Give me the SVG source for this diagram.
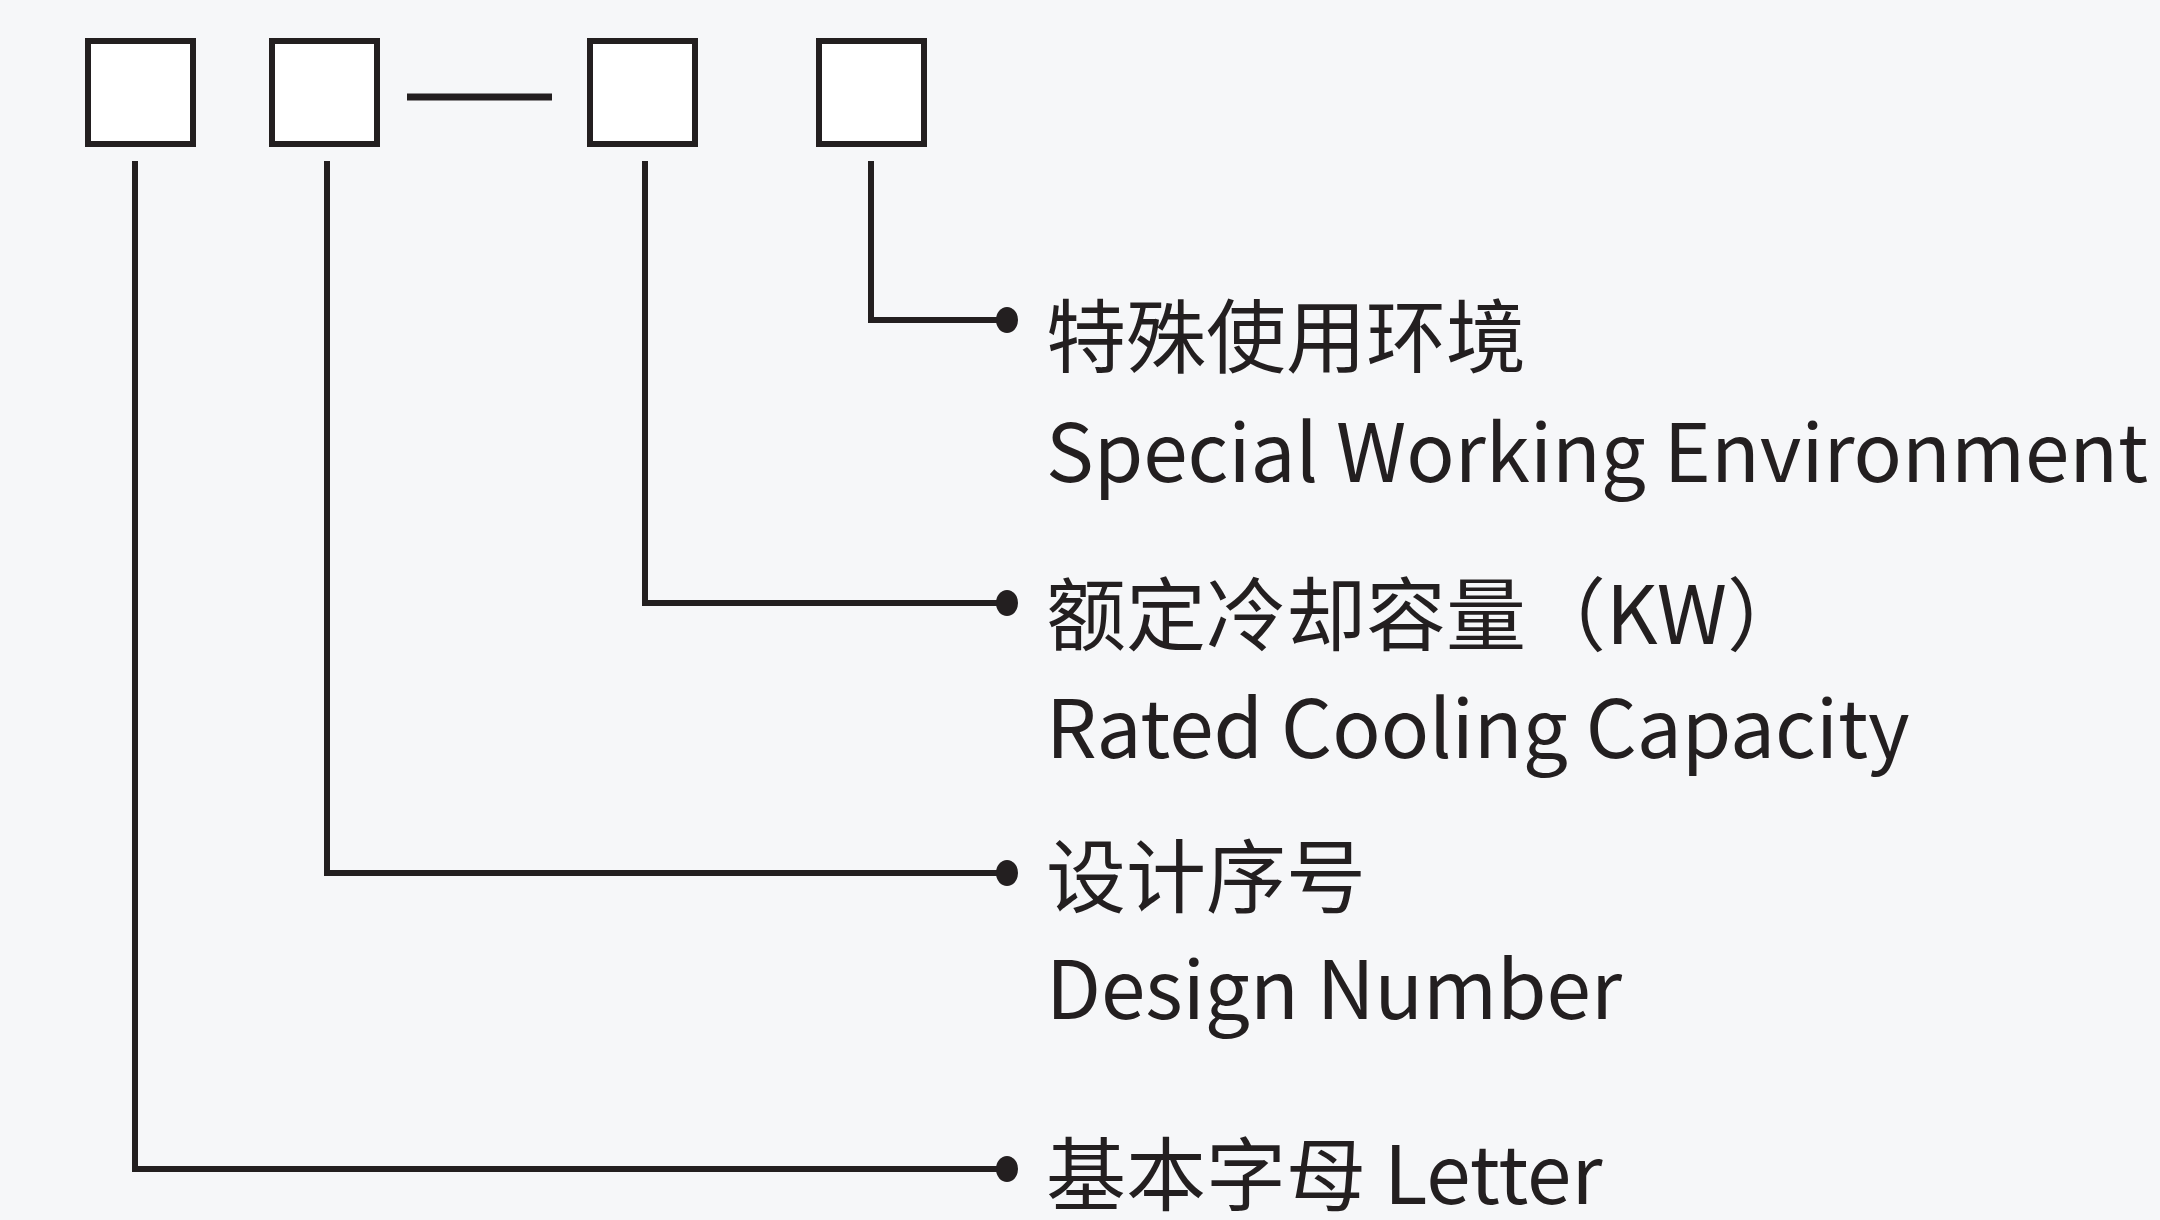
<svg xmlns="http://www.w3.org/2000/svg" width="2160" height="1220" viewBox="0 0 2160 1220">
<style>
.box{fill:#ffffff;stroke:#231f20;stroke-width:6}
.ln{fill:none;stroke:#231f20;stroke-width:6;stroke-linejoin:miter}
.dot{fill:#231f20}
.t{font-family:"Noto Sans CJK SC","Noto Sans",sans-serif;font-size:80px;fill:#231f20}
</style>
<rect width="2160" height="1220" fill="#f6f7f9"/>
<g id="box1"><rect class="box" x="88" y="41" width="105" height="103"/></g>
<g id="box2"><rect class="box" x="272" y="41" width="105" height="103"/></g>
<g id="dash"><line x1="407" y1="97" x2="552" y2="97" stroke="#231f20" stroke-width="7"/></g>
<g id="box3"><rect class="box" x="590" y="41" width="105" height="103"/></g>
<g id="box4"><rect class="box" x="819" y="41" width="105" height="103"/></g>
<g id="connectors">
<polyline class="ln" points="871,161 871,320 1005,320"/>
<ellipse class="dot" cx="1007" cy="320" rx="11" ry="13"/>
<polyline class="ln" points="645,161 645,603 1005,603"/>
<ellipse class="dot" cx="1007" cy="603" rx="11" ry="13"/>
<polyline class="ln" points="327,161 327,873 1005,873"/>
<ellipse class="dot" cx="1007" cy="873" rx="11" ry="13"/>
<polyline class="ln" points="135,161 135,1169 1005,1169"/>
<ellipse class="dot" cx="1007" cy="1169" rx="11" ry="13"/>
</g>
<g id="label4"><text class="t" x="1046" y="366">特殊使用环境</text><text class="t" x="1046" y="482">Special Working Environment</text></g>
<g id="label3"><text class="t" x="1046" y="644">额定冷却容量（KW）</text><text class="t" x="1046" y="758">Rated Cooling Capacity</text></g>
<g id="label2"><text class="t" x="1046" y="906">设计序号</text><text class="t" x="1046" y="1019">Design Number</text></g>
<g id="label1"><text class="t" x="1046" y="1204">基本字母 Letter</text></g>
</svg>
